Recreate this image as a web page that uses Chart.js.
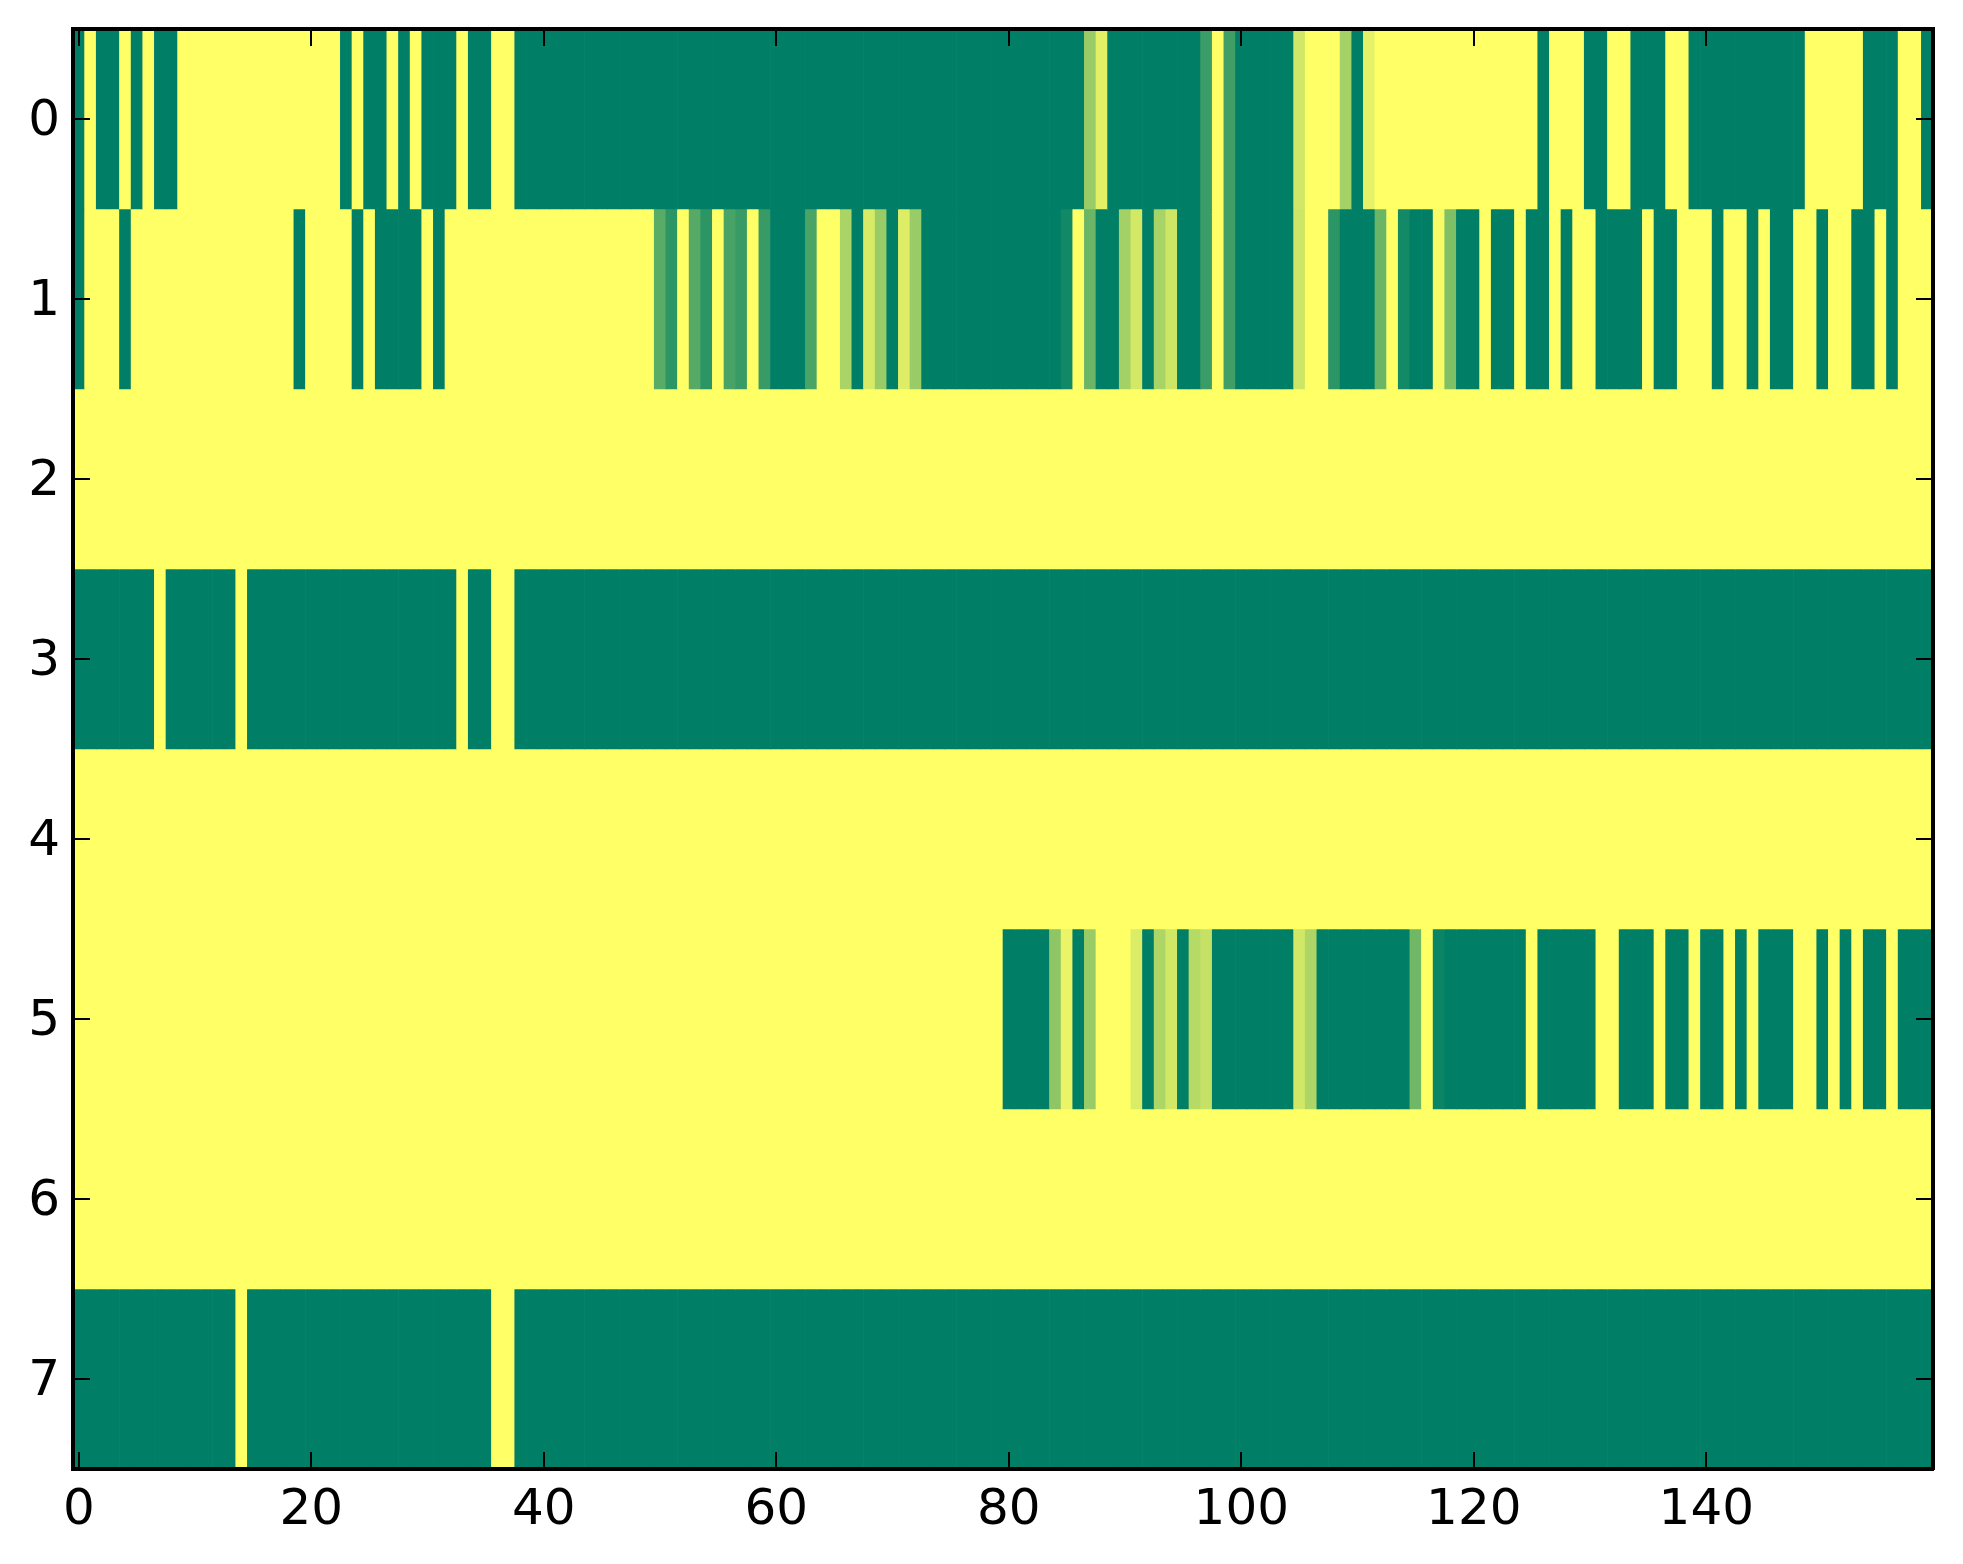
<!DOCTYPE html>
<html>
<head>
<meta charset="utf-8">
<style>
  html, body { margin: 0; padding: 0; background: #fff; }
  canvas { display: block; }
</style>
<script src="https://cdn.jsdelivr.net/npm/chart.js@4/dist/chart.umd.min.js"></script>
</head>
<body>
<canvas id="chart" width="1963" height="1564"></canvas>
<script>
const xTicks = [0, 20, 40, 60, 80, 100, 120, 140];
const yTicks = [0, 1, 2, 3, 4, 5, 6, 7];

// one list per row of the image, 160 columns, 0 = green end and 1 = yellow end
const row0 = [
  0,1,0,0,1,0,1,0,0,1,1,1,1,1,1,1,1,1,1,1,
  1,1,1,0,1,0,0,1,0,1,0,0,0,1,0,0,1,1,0,0,
  0,0,0,0,0,0,0,0,0,0,0,0,0,0,0,0,0,0,0,0,
  0,0,0,0,0,0,0,0,0,0,0,0,0,0,0,0,0,0,0,0,
  0,0,0,0,0,0,0,.6,.89,0,0,0,0,0,0,0,0,.23,1,.25,
  0,0,0,0,0,.82,1,1,1,.65,0,.9,1,1,1,1,1,1,1,1,
  1,1,1,1,1,1,0,1,1,1,0,0,1,1,0,0,0,1,1,0,
  0,0,0,0,0,0,0,0,0,1,1,1,1,1,0,0,0,1,1,0
];
const row1 = [
  0,1,1,1,0,1,1,1,1,1,1,1,1,1,1,1,1,1,1,0,
  1,1,1,1,0,1,0,0,0,0,1,0,1,1,1,1,1,1,1,1,
  1,1,1,1,1,1,1,1,1,1,.35,.17,1,.34,.17,1,.28,.22,1,.22,
  0,0,0,.29,1,1,.67,0,.85,.6,0,.87,.6,0,0,0,0,0,0,0,
  0,0,0,0,0,.07,1,.42,0,0,.64,.83,0,.66,.81,0,0,.23,1,.25,
  0,0,0,0,0,.81,1,1,.17,0,0,0,.42,1,.08,0,0,.97,.5,0,
  0,1,0,0,1,0,0,1,0,1,1,0,0,0,0,1,0,0,1,1,
  1,0,1,1,0,1,0,0,1,1,0,1,1,0,0,1,0,1,1,1
];
const row2 = [
  1,1,1,1,1,1,1,1,1,1,1,1,1,1,1,1,1,1,1,1,
  1,1,1,1,1,1,1,1,1,1,1,1,1,1,1,1,1,1,1,1,
  1,1,1,1,1,1,1,1,1,1,1,1,1,1,1,1,1,1,1,1,
  1,1,1,1,1,1,1,1,1,1,1,1,1,1,1,1,1,1,1,1,
  1,1,1,1,1,1,1,1,1,1,1,1,1,1,1,1,1,1,1,1,
  1,1,1,1,1,1,1,1,1,1,1,1,1,1,1,1,1,1,1,1,
  1,1,1,1,1,1,1,1,1,1,1,1,1,1,1,1,1,1,1,1,
  1,1,1,1,1,1,1,1,1,1,1,1,1,1,1,1,1,1,1,1
];
const row3 = [
  0,0,0,0,0,0,0,1,0,0,0,0,0,0,1,0,0,0,0,0,
  0,0,0,0,0,0,0,0,0,0,0,0,0,1,0,0,1,1,0,0,
  0,0,0,0,0,0,0,0,0,0,0,0,0,0,0,0,0,0,0,0,
  0,0,0,0,0,0,0,0,0,0,0,0,0,0,0,0,0,0,0,0,
  0,0,0,0,0,0,0,0,0,0,0,0,0,0,0,0,0,0,0,0,
  0,0,0,0,0,0,0,0,0,0,0,0,0,0,0,0,0,0,0,0,
  0,0,0,0,0,0,0,0,0,0,0,0,0,0,0,0,0,0,0,0,
  0,0,0,0,0,0,0,0,0,0,0,0,0,0,0,0,0,0,0,0
];
const row4 = row2;
const row5 = [
  1,1,1,1,1,1,1,1,1,1,1,1,1,1,1,1,1,1,1,1,
  1,1,1,1,1,1,1,1,1,1,1,1,1,1,1,1,1,1,1,1,
  1,1,1,1,1,1,1,1,1,1,1,1,1,1,1,1,1,1,1,1,
  1,1,1,1,1,1,1,1,1,1,1,1,1,1,1,1,1,1,1,1,
  0,0,0,0,.56,.92,0,.6,1,1,1,.86,0,.68,.82,0,.71,.78,0,0,
  0,0,0,0,0,.82,.68,0,0,0,0,0,0,0,0,.44,1,.05,0,0,
  0,0,0,0,0,1,0,0,0,0,0,1,1,0,0,0,1,0,0,1,
  0,0,1,0,1,0,0,0,1,1,0,1,0,1,0,0,1,0,0,0
];
const row6 = row2;
const row7 = [
  0,0,0,0,0,0,0,0,0,0,0,0,0,0,1,0,0,0,0,0,
  0,0,0,0,0,0,0,0,0,0,0,0,0,0,0,0,1,1,0,0,
  0,0,0,0,0,0,0,0,0,0,0,0,0,0,0,0,0,0,0,0,
  0,0,0,0,0,0,0,0,0,0,0,0,0,0,0,0,0,0,0,0,
  0,0,0,0,0,0,0,0,0,0,0,0,0,0,0,0,0,0,0,0,
  0,0,0,0,0,0,0,0,0,0,0,0,0,0,0,0,0,0,0,0,
  0,0,0,0,0,0,0,0,0,0,0,0,0,0,0,0,0,0,0,0,
  0,0,0,0,0,0,0,0,0,0,0,0,0,0,0,0,0,0,0,0
];
const rows = [row0, row1, row2, row3, row4, row5, row6, row7];
const columns = row0.map((v, i) => i);

// matplotlib "summer" colormap
function summer(v) {
  const r = Math.floor(255 * v);
  const g = Math.floor(255 * (0.5 + 0.5 * v));
  return `rgb(${r},${g},102)`;
}

const tickFont = { family: '"DejaVu Sans"', size: 50 };
const tickStyle = { color: '#000', lineWidth: 2, tickColor: '#000', tickWidth: 2, tickLength: -17, drawOnChartArea: false, offset: false, z: 1 };
const spine = { display: true, color: '#000', width: 4, z: 2 };

// fixed axis thickness, no extra room for the tick labels
function fixSize(s, size) {
  if (s.isHorizontal()) s.height = size; else s.width = size;
  s.paddingTop = s.paddingBottom = s.paddingLeft = s.paddingRight = 0;
}

new Chart(document.getElementById('chart'), {
  type: 'bar',
  data: {
    labels: columns,
    datasets: rows.map((row, r) => ({
      data: row.map(() => [r - 0.5, r + 0.5]),
      backgroundColor: row.map(summer),
      borderWidth: 0,
      barPercentage: 1,
      categoryPercentage: 1,
      grouped: false
    }))
  },
  options: {
    responsive: false,
    animation: false,
    devicePixelRatio: 1,
    layout: { autoPadding: false, padding: 0 },
    plugins: { legend: { display: false }, tooltip: { enabled: false } },
    scales: {
      x: {
        type: 'category',
        position: 'bottom',
        offset: true,
        grid: tickStyle,
        border: spine,
        ticks: { color: '#000', font: tickFont, padding: 29, autoSkip: false, maxRotation: 0,
          callback: (v) => columns[v] },
        afterBuildTicks: (s) => { s.ticks = xTicks.map((v) => ({ value: v })); },
        afterFit: (s) => fixSize(s, 95)
      },
      x2: {
        type: 'category',
        labels: columns,
        position: 'top',
        offset: true,
        grid: tickStyle,
        border: spine,
        ticks: { display: false, autoSkip: false },
        afterBuildTicks: (s) => { s.ticks = xTicks.map((v) => ({ value: v })); },
        afterFit: (s) => fixSize(s, 29)
      },
      y: {
        type: 'linear',
        position: 'left',
        min: -0.5,
        max: 7.5,
        reverse: true,
        grid: tickStyle,
        border: spine,
        ticks: { color: '#000', font: tickFont, padding: 30, labelOffset: 3 },
        afterBuildTicks: (s) => { s.ticks = yTicks.map((v) => ({ value: v })); },
        afterFit: (s) => fixSize(s, 73)
      },
      y2: {
        type: 'linear',
        position: 'right',
        min: -0.5,
        max: 7.5,
        reverse: true,
        grid: tickStyle,
        border: spine,
        ticks: { display: false },
        afterBuildTicks: (s) => { s.ticks = yTicks.map((v) => ({ value: v })); },
        afterFit: (s) => fixSize(s, 30)
      }
    }
  }
});
</script>
</body>
</html>
